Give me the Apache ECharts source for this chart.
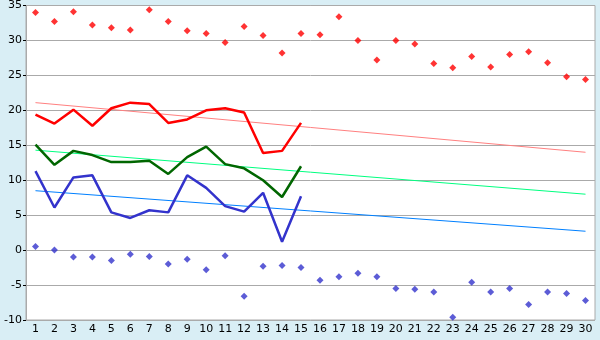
<!DOCTYPE html>
<html><head><meta charset="utf-8">
<script src="https://cdn.jsdelivr.net/npm/echarts@6/dist/echarts.min.js"></script>
<style>html,body{margin:0;padding:0;background:#d9eef5;}#c{width:600px;height:340px;}</style>
</head><body><div id="c"></div>
<script>
const days = Array.from({length:30},(_,i)=>String(i+1));
const maxPts = [34.0,32.7,34.1,32.2,31.8,31.5,34.4,32.7,31.4,31.0,29.7,32.0,30.7,28.2,31.0,30.8,33.4,30.0,27.2,30.0,29.5,26.7,26.1,27.7,26.2,28.0,28.4,26.8,24.8,24.4];
const minPts = [0.5,0.0,-1.0,-1.0,-1.5,-0.6,-0.9,-2.0,-1.3,-2.8,-0.8,-6.6,-2.3,-2.2,-2.5,-4.3,-3.8,-3.3,-3.8,-5.5,-5.6,-6.0,-9.6,-4.6,-6.0,-5.5,-7.8,-6.0,-6.2,-7.2];
const maxLine = [19.4,18.1,20.1,17.8,20.3,21.1,20.9,18.2,18.7,20.0,20.3,19.7,13.9,14.2,18.2];
const meanLine = [15.1,12.2,14.2,13.6,12.6,12.6,12.8,10.9,13.3,14.8,12.3,11.7,10.0,7.6,12.0];
const minLine = [11.3,6.1,10.4,10.7,5.4,4.6,5.7,5.4,10.7,8.9,6.3,5.5,8.2,1.2,7.7];
const trendMax = [21.1,14.0];
const trendMean = [14.3,8.0];
const trendMin = [8.5,2.7];
const yTicks = {min:-10,max:35,interval:5};

const chart = echarts.init(document.getElementById('c'),null,{renderer:'canvas'});
function trend(arr,color){
  return {type:'line',data:[[0,arr[0]],[days.length-1,arr[1]]],symbol:'none',silent:true,
    lineStyle:{color:color,width:1},z:2,animation:false};
}
function line(arr,color){
  return {type:'line',data:arr,symbol:'none',lineStyle:{color:color,width:2.5},z:3,animation:false};
}
function pts(arr,color){
  return {type:'scatter',data:arr,symbol:'diamond',symbolSize:7,itemStyle:{color:color},z:4,animation:false};
}
chart.setOption({
  animation:false,
  backgroundColor:'#d9eef5',
  grid:{left:26,right:5,top:5,bottom:20,show:true,backgroundColor:'#ffffff',borderColor:'#aaaaaa',borderWidth:1},
  xAxis:{type:'category',data:days,boundaryGap:true,
    axisLine:{lineStyle:{color:'#aaaaaa'}},
    axisTick:{alignWithLabel:true,length:5,lineStyle:{color:'#000'}},
    axisLabel:{color:'#000',fontFamily:'DejaVu Sans',fontSize:11,margin:4,interval:0},
    splitLine:{show:false}},
  yAxis:{type:'value',min:yTicks.min,max:yTicks.max,interval:yTicks.interval,
    axisLine:{show:true,lineStyle:{color:'#aaaaaa'}},
    axisTick:{show:true,length:3,lineStyle:{color:'#000'}},
    axisLabel:{color:'#000',fontFamily:'DejaVu Sans',fontSize:11,margin:4},
    splitLine:{lineStyle:{color:'#aaaaaa',width:1}}},
  series:[
    trend(trendMax,'#ff8080'),
    trend(trendMean,'#00ff80'),
    trend(trendMin,'#0080ff'),
    line(maxLine,'#ff0000'),
    line(meanLine,'#006600'),
    line(minLine,'#3333cc'),
    pts(maxPts,'#ff0000'),
    pts(minPts,'#3333cc')
  ]
});
</script></body></html>
